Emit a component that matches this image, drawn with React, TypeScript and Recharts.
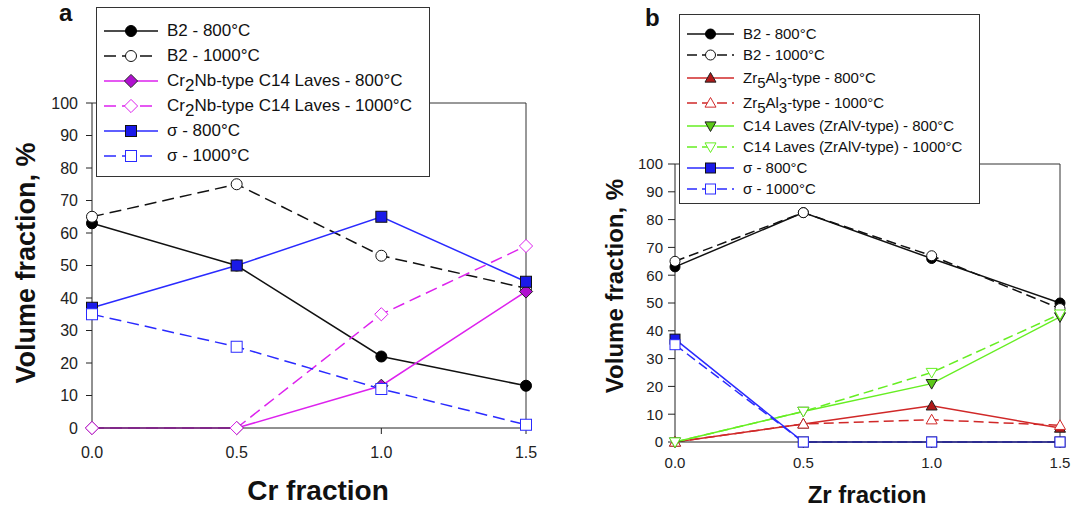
import React from 'react';
import { LineChart, Line, XAxis, YAxis, Legend, ReferenceLine } from 'recharts';

const FONT = '"Liberation Sans", Arial, Helvetica, sans-serif';

// Panel a - Cr fraction
const crFraction = [0, 0.5, 1.0, 1.5];
const b2At800A = [63, 50, 22, 13];
const b2At1000A = [65, 75, 53, 43];
const lavesAt800A = [0, 0, 13, 42];
const lavesAt1000A = [0, 0, 35, 56];
const sigmaAt800A = [37, 50, 65, 45];
const sigmaAt1000A = [35, 25, 12, 1];

// Panel b - Zr fraction
const zrFraction = [0, 0.5, 1.0, 1.5];
const b2At800B = [63, 82.5, 66, 50];
const b2At1000B = [65, 82.5, 67, 48];
const zr5Al3At800 = [0, 6.5, 13, 5];
const zr5Al3At1000 = [0, 6.5, 8, 6];
const c14At800 = [0, 11, 21, 45];
const c14At1000 = [0, 11, 25, 46];
const sigmaAt800B = [37, 0, 0, 0];
const sigmaAt1000B = [35, 0, 0, 0];

const xTicks = [0, 0.5, 1.0, 1.5];
const yTicks = [0, 10, 20, 30, 40, 50, 60, 70, 80, 90, 100];

type Shape = 'circle' | 'square' | 'diamond' | 'triUp' | 'triDown';

interface Series {
  key: string;
  values: number[];
  label: React.ReactNode;
  color: string;
  fill: string;
  edge: string;
  dashed: boolean;
  shape: Shape;
}

const MAGENTA = '#dd22ee';
const BLUE = '#2a2aff';
const RED = '#d02828';
const GREEN = '#66ee22';

const sub = (t: string) => (
  <sub style={{ fontSize: '1em', lineHeight: 0, verticalAlign: '-0.3em' }}>{t}</sub>
);

const seriesA: Series[] = [
  { key: 'b2_800', values: b2At800A, label: 'B2 - 800°C', color: '#111', fill: '#000', edge: '#000', dashed: false, shape: 'circle' },
  { key: 'b2_1000', values: b2At1000A, label: 'B2 - 1000°C', color: '#111', fill: '#fff', edge: '#111', dashed: true, shape: 'circle' },
  { key: 'lav_800', values: lavesAt800A, label: <>Cr{sub('2')}Nb-type C14 Laves - 800°C</>, color: MAGENTA, fill: '#b010d0', edge: '#222', dashed: false, shape: 'diamond' },
  { key: 'lav_1000', values: lavesAt1000A, label: <>Cr{sub('2')}Nb-type C14 Laves - 1000°C</>, color: MAGENTA, fill: '#fff', edge: MAGENTA, dashed: true, shape: 'diamond' },
  { key: 'sig_800', values: sigmaAt800A, label: 'σ - 800°C', color: BLUE, fill: '#1a1ae8', edge: '#111', dashed: false, shape: 'square' },
  { key: 'sig_1000', values: sigmaAt1000A, label: 'σ - 1000°C', color: BLUE, fill: '#fff', edge: BLUE, dashed: true, shape: 'square' },
];

const seriesB: Series[] = [
  { key: 'b2_800', values: b2At800B, label: 'B2 - 800°C', color: '#111', fill: '#000', edge: '#000', dashed: false, shape: 'circle' },
  { key: 'b2_1000', values: b2At1000B, label: 'B2 - 1000°C', color: '#111', fill: '#fff', edge: '#111', dashed: true, shape: 'circle' },
  { key: 'zr_800', values: zr5Al3At800, label: <>Zr{sub('5')}Al{sub('3')}-type - 800°C</>, color: RED, fill: '#b01818', edge: '#222', dashed: false, shape: 'triUp' },
  { key: 'zr_1000', values: zr5Al3At1000, label: <>Zr{sub('5')}Al{sub('3')}-type - 1000°C</>, color: RED, fill: '#fff', edge: RED, dashed: true, shape: 'triUp' },
  { key: 'c14_800', values: c14At800, label: 'C14 Laves (ZrAlV-type) - 800°C', color: GREEN, fill: '#5cc818', edge: '#222', dashed: false, shape: 'triDown' },
  { key: 'c14_1000', values: c14At1000, label: 'C14 Laves (ZrAlV-type) - 1000°C', color: GREEN, fill: '#fff', edge: GREEN, dashed: true, shape: 'triDown' },
  { key: 'sig_800', values: sigmaAt800B, label: 'σ - 800°C', color: BLUE, fill: '#1a1ae8', edge: '#111', dashed: false, shape: 'square' },
  { key: 'sig_1000', values: sigmaAt1000B, label: 'σ - 1000°C', color: BLUE, fill: '#fff', edge: BLUE, dashed: true, shape: 'square' },
];

const buildRows = (xs: number[], series: Series[]) =>
  xs.map((x, i) => {
    const row: Record<string, number> = { x };
    series.forEach((s) => { row[s.key] = s.values[i]; });
    return row;
  });

const rowsA = buildRows(crFraction, seriesA);
const rowsB = buildRows(zrFraction, seriesB);

function drawMarker(shape: Shape, cx: number, cy: number, s: number, fill: string, edge: string, key?: string) {
  const h = s / 2;
  const common = { fill, stroke: edge, strokeWidth: 1 };
  switch (shape) {
    case 'circle':
      return <circle key={key} cx={cx} cy={cy} r={h} {...common} />;
    case 'square':
      return <rect key={key} x={cx - h} y={cy - h} width={s} height={s} {...common} />;
    case 'diamond': {
      const d = h * 1.2;
      return <polygon key={key} points={`${cx},${cy - d} ${cx + d},${cy} ${cx},${cy + d} ${cx - d},${cy}`} {...common} />;
    }
    case 'triUp': {
      const d = h * 1.1;
      return <polygon key={key} points={`${cx},${cy - d} ${cx + d},${cy + d * 0.75} ${cx - d},${cy + d * 0.75}`} {...common} />;
    }
    default: {
      const d = h * 1.1;
      return <polygon key={key} points={`${cx},${cy + d} ${cx + d},${cy - d * 0.75} ${cx - d},${cy - d * 0.75}`} {...common} />;
    }
  }
}

interface LegendCfg {
  left: number;
  top: number;
  width: number;
  height: number;
  rowHeights: number[];
  padTop: number;
  fontSize: number;
  sampleWidth: number;
}

const LegendBox = ({ series, cfg, size, dash }: { series: Series[]; cfg: LegendCfg; size: number; dash: string }) => (
  <div
    style={{
      width: cfg.width,
      height: cfg.height,
      boxSizing: 'border-box',
      border: '1px solid #333',
      background: '#fff',
      paddingTop: cfg.padTop,
      paddingLeft: 7,
      fontFamily: FONT,
      fontSize: cfg.fontSize,
      color: '#111',
    }}
  >
    {series.map((s, i) => (
      <div key={s.key} style={{ display: 'flex', alignItems: 'center', height: cfg.rowHeights[i], whiteSpace: 'nowrap' }}>
        <svg width={cfg.sampleWidth} height={16} style={{ flex: 'none', marginRight: 9, overflow: 'visible' }}>
          <line x1={0} x2={cfg.sampleWidth} y1={8} y2={8} stroke={s.color} strokeWidth={1.5} strokeDasharray={s.dashed ? dash : undefined} />
          {drawMarker(s.shape, cfg.sampleWidth / 2, 8, size, s.fill, s.edge)}
        </svg>
        <span>{s.label}</span>
      </div>
    ))}
  </div>
);

interface PanelProps {
  left: number;
  width: number;
  height: number;
  margin: { top: number; right: number; bottom: number; left: number };
  rows: Record<string, number>[];
  series: Series[];
  legend: LegendCfg;
  markerSize: number;
  dash: string;
  tickFont: number;
  yTickSize: number;
  yTickMargin: number;
  xTickMargin: number;
  xTitle: string;
  xTitlePos: { x: number; y: number; size: number };
  yTitlePos: { x: number; y: number; size: number };
}

const Panel = (p: PanelProps) => {
  const tickStyle = { fontSize: p.tickFont, fill: '#222', fontFamily: FONT };
  return (
    <div style={{ position: 'absolute', left: p.left, top: 0 }}>
      <LineChart width={p.width} height={p.height} data={p.rows} margin={p.margin}>
        <XAxis
          dataKey="x"
          type="number"
          domain={[0, 1.5]}
          ticks={xTicks}
          tickFormatter={(v: number) => v.toFixed(1)}
          height={30}
          tick={tickStyle}
          tickSize={6}
          tickMargin={p.xTickMargin}
          stroke="#222"
          label={() => (
            <text x={p.xTitlePos.x} y={p.xTitlePos.y} textAnchor="middle" fontFamily={FONT} fontWeight="bold" fontSize={p.xTitlePos.size} fill="#111">
              {p.xTitle}
            </text>
          )}
        />
        <YAxis
          type="number"
          domain={[0, 100]}
          ticks={yTicks}
          width={40}
          tick={tickStyle}
          tickSize={p.yTickSize}
          tickMargin={p.yTickMargin}
          stroke="#222"
          label={() => (
            <text
              x={p.yTitlePos.x}
              y={p.yTitlePos.y}
              transform={`rotate(-90, ${p.yTitlePos.x}, ${p.yTitlePos.y})`}
              textAnchor="middle"
              fontFamily={FONT}
              fontWeight="bold"
              fontSize={p.yTitlePos.size}
              fill="#111"
            >
              Volume fraction, %
            </text>
          )}
        />
        <ReferenceLine y={100} stroke="#333" strokeWidth={1} />
        <ReferenceLine x={1.5} stroke="#333" strokeWidth={1} />
        {p.series.map((s) => (
          <Line
            key={s.key}
            dataKey={s.key}
            type="linear"
            stroke={s.color}
            strokeWidth={1.5}
            strokeDasharray={s.dashed ? p.dash : undefined}
            isAnimationActive={false}
            dot={(d: any) => drawMarker(s.shape, d.cx, d.cy, p.markerSize, s.fill, s.edge, `${s.key}-${d.index}`)}
            activeDot={false}
          />
        ))}
        <Legend
          layout="vertical"
          align="center"
          verticalAlign="middle"
          wrapperStyle={{ left: p.legend.left, top: p.legend.top, width: p.legend.width, height: p.legend.height }}
          content={() => <LegendBox series={p.series} cfg={p.legend} size={p.markerSize} dash={p.dash} />}
        />
      </LineChart>
    </div>
  );
};

export default function App() {
  return (
    <div style={{ position: 'absolute', left: 0, top: 0, width: 1072, height: 507, background: '#fff', fontFamily: FONT }}>
      <Panel
        left={0}
        width={540}
        height={507}
        margin={{ top: 103, right: 14, bottom: 49, left: 52 }}
        rows={rowsA}
        series={seriesA}
        legend={{ left: 96, top: 7, width: 334, height: 170, rowHeights: [25, 25, 25, 25, 25, 25], padTop: 10, fontSize: 17, sampleWidth: 54 }}
        markerSize={11}
        dash="12 6"
        tickFont={16}
        yTickSize={6}
        yTickMargin={8}
        xTickMargin={13}
        xTitle="Cr fraction"
        xTitlePos={{ x: 318, y: 500, size: 28 }}
        yTitlePos={{ x: 35, y: 263, size: 27 }}
      />
      <Panel
        left={540}
        width={532}
        height={507}
        margin={{ top: 164, right: 12, bottom: 35, left: 95 }}
        rows={rowsB}
        series={seriesB}
        legend={{ left: 139, top: 14, width: 301, height: 190, rowHeights: [21, 21, 25, 25, 21, 21, 21, 21], padTop: 8, fontSize: 15, sampleWidth: 47 }}
        markerSize={10}
        dash="10 5"
        tickFont={15}
        yTickSize={7}
        yTickMargin={5}
        xTickMargin={9}
        xTitle="Zr fraction"
        xTitlePos={{ x: 327, y: 503, size: 24 }}
        yTitlePos={{ x: 83, y: 286, size: 24 }}
      />
      <div style={{ position: 'absolute', left: 59, top: 0, fontSize: 24, lineHeight: 1.117, fontWeight: 'bold', color: '#111' }}>a</div>
      <div style={{ position: 'absolute', left: 645, top: 5, fontSize: 24, lineHeight: 1.117, fontWeight: 'bold', color: '#111' }}>b</div>
    </div>
  );
}
